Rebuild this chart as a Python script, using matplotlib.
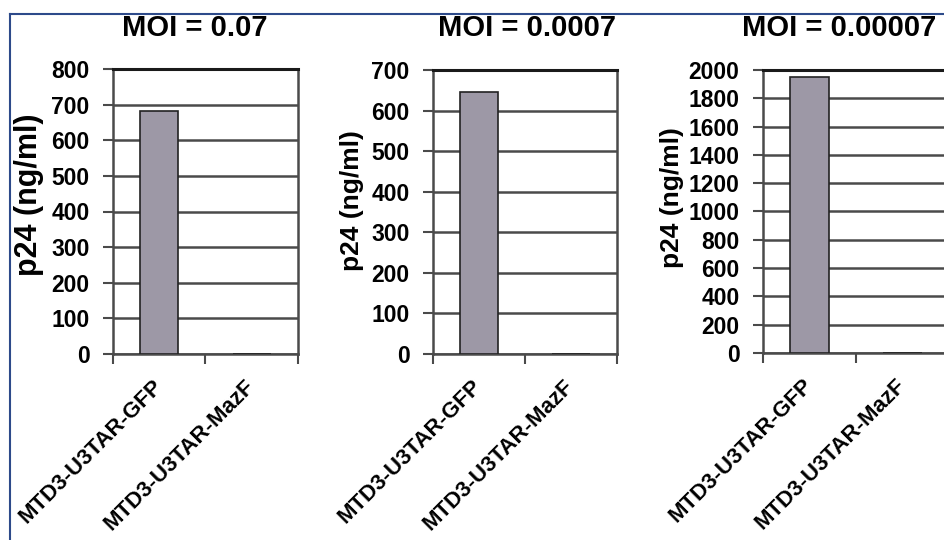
import matplotlib
matplotlib.use('Agg')
import matplotlib.pyplot as plt
from matplotlib.lines import Line2D
from matplotlib.transforms import ScaledTranslation
import numpy as np

plt.rcParams['font.family'] = ['Liberation Sans', 'DejaVu Sans']
plt.rcParams['font.weight'] = 'bold'

# datos
categorias = ['MTD3-U3TAR-GFP', 'MTD3-U3TAR-MazF']
titulos = ['MOI = 0.07', 'MOI = 0.0007', 'MOI = 0.00007']
p24_gfp = [682, 647, 1948]
p24_mazf = [0, 0, 0]
y_max = [800, 700, 2000]
y_paso = [100, 100, 200]

# posiciones de los ejes (fraccion de figura)
posiciones = [
    [113/945, 186/540, 185/945, 285/540],
    [433/945, 186/540, 184/945, 284/540],
    [763/945, 187/540, 186/945, 283/540],
]
titulo_x = [195/945, 527/945, 839/945]
ylabel_x = [29/945, 352/945, 672/945]
ylabel_y = [195/540, 201/540, 198/540]
ylabel_tam = [22, 19, 19]

fig = plt.figure(figsize=(9.45, 5.4), dpi=100)
fig.patch.set_facecolor('white')

color_barra = '#9d98a6'
color_linea = '#4a4a4a'

for i in range(3):
    ax = fig.add_axes(posiciones[i])
    x = np.arange(len(categorias))
    valores = [p24_gfp[i], p24_mazf[i]]
    ax.bar(x, valores, width=0.41, color=color_barra, edgecolor='#222222',
           linewidth=1.2, zorder=3)
    ax.set_xlim(-0.5, 1.5)
    ax.set_ylim(0, y_max[i])
    ax.set_yticks(np.arange(0, y_max[i] + 1, y_paso[i]))
    ax.yaxis.grid(True, color=color_linea, linewidth=1.8, zorder=1)
    ax.set_axisbelow(True)

    # marcas entre categorias, etiquetas en el centro (estilo Excel)
    ax.set_xticks([-0.5, 0.5, 1.5])
    ax.set_xticklabels(['', '', ''])
    ax.set_xticks(x, minor=True)
    ax.set_xticklabels(categorias, minor=True, rotation=45, ha='right',
                       va='center', rotation_mode='anchor', fontsize=16,
                       fontweight='bold')
    desplazar = ScaledTranslation(9/100, 0, fig.dpi_scale_trans)
    for t in ax.get_xticklabels(minor=True):
        t.set_transform(t.get_transform() + desplazar)
    ax.tick_params(axis='x', which='minor', length=0, pad=21)
    ax.tick_params(axis='x', which='major', direction='out', length=7,
                   width=1.5, color=color_linea)
    ax.tick_params(axis='y', direction='out', length=7, width=1.5,
                   color=color_linea, labelsize=16.5, pad=10)
    for t in ax.get_yticklabels():
        t.set_fontweight('bold')

    for lado in ['left', 'bottom', 'right']:
        ax.spines[lado].set_color(color_linea)
        ax.spines[lado].set_linewidth(1.8)
    ax.spines['top'].set_color('#1a1a1a')
    ax.spines['top'].set_linewidth(2.2)

    fig.text(titulo_x[i], 1 - 28/540, titulos[i], ha='center', va='center',
             fontsize=21, fontweight='bold')
    fig.text(ylabel_x[i], 1 - ylabel_y[i], 'p24 (ng/ml)', rotation=90,
             ha='center', va='center', fontsize=ylabel_tam[i],
             fontweight='bold')

# marco azul exterior
y_top = 1 - 14/540
x_izq = 10/945
fig.add_artist(Line2D([x_izq, 1.0], [y_top, y_top], color='#2d4a8a',
                      linewidth=1.5, transform=fig.transFigure))
fig.add_artist(Line2D([x_izq, x_izq], [0, y_top], color='#2d4a8a',
                      linewidth=1.5, transform=fig.transFigure))

fig.savefig('out.png', dpi=100)
